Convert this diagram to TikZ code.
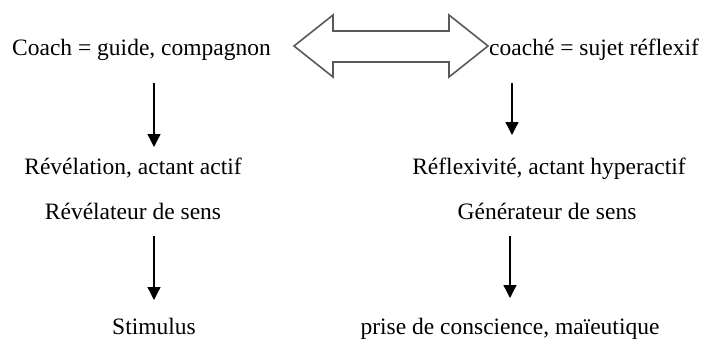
\documentclass[tikz,border=0pt]{standalone}
\usepackage{fontspec}
\setmainfont{Liberation Serif}
\usetikzlibrary{arrows.meta}
\begin{document}
\begin{tikzpicture}[x=1pt,y=-1pt,
  lbl/.style={anchor=base,inner sep=0pt,font=\fontsize{23.5}{28}\selectfont},
  arr/.style={line width=1.3pt,-{Triangle[width=13pt,length=13pt]}},
  dbl/.style={draw=black!65,line width=1.6pt,line join=miter}]
\useasboundingbox (0,0) rectangle (710,341);
% top row
\node[lbl,anchor=base west] (coach) at (12,55) {Coach = guide, compagnon};
\node[lbl,anchor=base west] (coache) at (489,55) {coaché = sujet réflexif};
\draw[dbl] (294,46) -- (333,15) -- (333,31) -- (449,31) -- (449,15) -- (488,46)
  -- (449,77) -- (449,62) -- (333,62) -- (333,77) -- cycle;
% middle rows
\node[lbl] (rev) at (133,174) {Révélation, actant actif};
\node[lbl] (revs) at (133,219) {Révélateur de sens};
\node[lbl] (refl) at (549,174) {Réflexivité, actant hyperactif};
\node[lbl] (gen) at (547,219) {Générateur de sens};
% bottom row
\node[lbl] (stim) at (154,334) {Stimulus};
\node[lbl] (prise) at (510,334) {prise de conscience, maïeutique};
% arrow endpoints
\coordinate (a1s) at (154,83);  \coordinate (a1e) at (154,147);
\coordinate (a2s) at (512,83);  \coordinate (a2e) at (512,135);
\coordinate (a3s) at (154,236); \coordinate (a3e) at (154,300);
\coordinate (a4s) at (510,236); \coordinate (a4e) at (510,298);
\draw[arr] (a1s) -- (a1e);
\draw[arr] (a2s) -- (a2e);
\draw[arr] (a3s) -- (a3e);
\draw[arr] (a4s) -- (a4e);
\end{tikzpicture}
\end{document}
